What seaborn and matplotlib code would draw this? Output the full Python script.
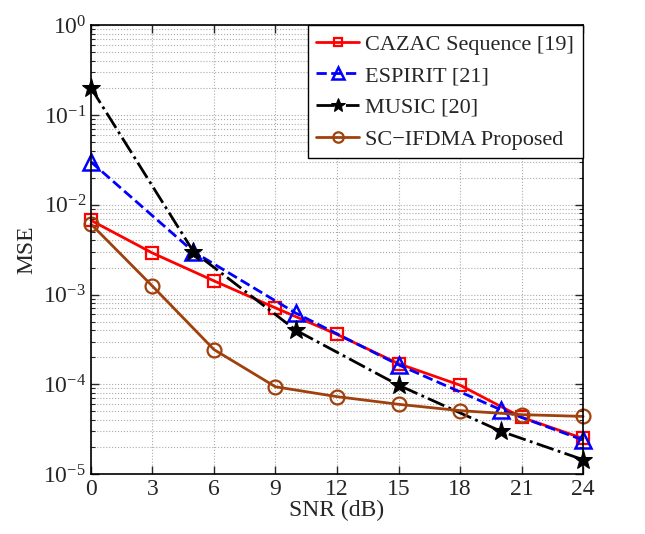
import numpy as np
import matplotlib
matplotlib.use("Agg")
import matplotlib.pyplot as plt
import seaborn as sns
from matplotlib.ticker import LogLocator, NullFormatter

# values
snr_a = [0, 3, 6, 9, 12, 15, 18, 21, 24]
snr_b = [0, 5, 10, 15, 20, 24]

cazac = [6.7e-3, 2.9e-3, 1.42e-3, 7.1e-4, 3.6e-4, 1.7e-4, 9.8e-5, 4.3e-5, 2.5e-5]
espirit = [3.0e-2, 3.0e-3, 6.2e-4, 1.65e-4, 5.2e-5, 2.4e-5]
music = [2.0e-1, 3.0e-3, 4.0e-4, 9.8e-5, 3.0e-5, 1.45e-5]
proposed = [6.1e-3, 1.24e-3, 2.44e-4, 9.4e-5, 7.3e-5, 6.0e-5, 5.1e-5, 4.6e-5, 4.4e-5]

labels = ["CAZAC Sequence [19]", "ESPIRIT [21]", "MUSIC [20]", "SC\u2212IFDMA Proposed"]

sns.set_style("ticks")
plt.rcParams['font.family'] = ['Liberation Serif', 'DejaVu Serif']
plt.rcParams['mathtext.fontset'] = 'custom'
plt.rcParams['mathtext.rm'] = 'Liberation Serif'
plt.rcParams['mathtext.it'] = 'Liberation Serif:italic'

fig = plt.figure(figsize=(6.45, 5.34), dpi=100)
ax = fig.add_axes([0.141, 0.112, 0.763, 0.841])

brown = "#a0410d"
sns.lineplot(x=snr_a, y=cazac, ax=ax, color="red", lw=2, marker="s", ms=8,
             mfc="none", mec="red", mew=1.6, label=labels[0], clip_on=False)
sns.lineplot(x=snr_b, y=espirit, ax=ax, color="blue", lw=2, ls="--", marker="^", ms=11,
             mfc="none", mec="blue", mew=1.8, label=labels[1], clip_on=False)
sns.lineplot(x=snr_b, y=music, ax=ax, color="black", lw=2, ls="-.", marker="*", ms=14,
             mfc="black", mec="black", label=labels[2], clip_on=False)
sns.lineplot(x=snr_a, y=proposed, ax=ax, color=brown, lw=2, marker="o", ms=10,
             mfc="none", mec=brown, mew=1.6, label=labels[3], clip_on=False)

ax.set_yscale("log")
ax.set_ylim(1e-5, 1)
ax.set_xlim(0, 24)
ax.set_xticks(range(0, 25, 3))
ax.yaxis.set_minor_locator(LogLocator(base=10, subs=np.arange(2, 10)))
ax.yaxis.set_minor_formatter(NullFormatter())

ax.grid(True, which="major", ls=":", color="#aaaaaa", lw=0.8)
ax.grid(True, which="minor", axis="y", ls=":", color="#aaaaaa", lw=0.8)
ax.tick_params(which="both", direction="in", top=True, right=True, labelsize=17)
ax.tick_params(which="major", length=6, width=1)
ax.tick_params(which="minor", length=3, width=0.8)
for s in ax.spines.values():
    s.set_linewidth(1.2)
    s.set_color("black")

ax.set_xlabel("SNR (dB)", fontsize=17, labelpad=0)
ax.set_ylabel("MSE", fontsize=17, labelpad=4)

leg = ax.legend(loc="upper right", borderaxespad=0, fontsize=16, handlelength=1.9,
                fancybox=False, edgecolor="black", framealpha=1, markerscale=0.75,
                labelspacing=0.5, handletextpad=0.3, borderpad=0.4)
leg.get_frame().set_linewidth(1.0)

fig.savefig("out.png", dpi=100)
